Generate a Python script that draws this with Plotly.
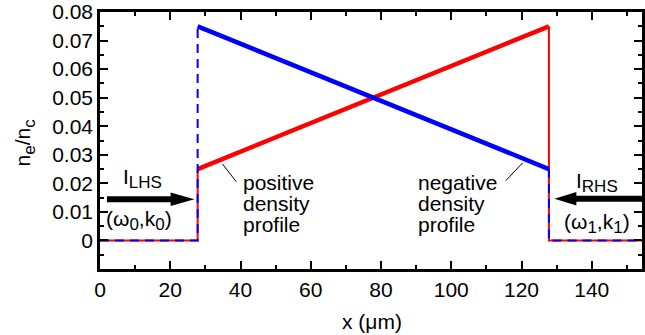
import plotly.graph_objects as go

# ---- data ----
x_edges = [0, 27.8, 127.8, 156]          # vacuum / plasma / vacuum boundaries (µm)
pos_profile_y = [0.025, 0.075]           # positive density profile (ne/nc) at plasma edges
neg_profile_y = [0.075, 0.025]           # negative density profile (ne/nc) at plasma edges
x_ticks = [0, 20, 40, 60, 80, 100, 120, 140]
y_ticks = [0, 0.01, 0.02, 0.03, 0.04, 0.05, 0.06, 0.07, 0.08]
y_tick_text = ["0", "0.01", "0.02", "0.03", "0.04", "0.05", "0.06", "0.07", "0.08"]

W, H = 645, 335
ML, MR, MT, MB = 100, 0, 10, 66
XR = [0, 154.3]
YR = [-0.01, 0.08001]
FONT = "Liberation Sans, Arial, sans-serif"
FS = 21

def dx(px):
    return XR[0] + (px - ML) / (W - ML - MR) * (XR[1] - XR[0])

def dy(py):
    return YR[1] - (py - MT) / (H - MT - MB) * (YR[1] - YR[0])

RED = "#ff0000"
BLUE = "#0000ff"

x0, xa, xb, x1 = x_edges
fig = go.Figure()

fig.add_trace(go.Scatter(
    x=[x0, xa, xa, None, xb, xb, x1],
    y=[0, 0, pos_profile_y[0], None, pos_profile_y[1], 0, 0],
    mode="lines", line=dict(color=RED, width=2), hoverinfo="skip", showlegend=False))
fig.add_trace(go.Scatter(
    x=[xa, xb], y=pos_profile_y,
    mode="lines", line=dict(color=RED, width=4.5), hoverinfo="skip", showlegend=False))
fig.add_trace(go.Scatter(
    x=[xa, xb], y=neg_profile_y,
    mode="lines", line=dict(color=BLUE, width=4.5), hoverinfo="skip", showlegend=False))
fig.add_trace(go.Scatter(
    x=[x0, xa, xa, None, xb, xb, x1],
    y=[0, 0, neg_profile_y[0], None, neg_profile_y[1], 0, 0],
    mode="lines", line=dict(color=BLUE, width=2, dash="9px,6px"),
    hoverinfo="skip", showlegend=False))
# empty helper trace so the top frame axis is drawn
fig.add_trace(go.Scatter(x=[None], y=[None], xaxis="x2", mode="lines",
                         hoverinfo="skip", showlegend=False))

axis_common = dict(
    showline=True, linecolor="black", linewidth=2.5, mirror="ticks",
    ticks="inside", ticklen=8, tickwidth=2, tickcolor="black",
    showgrid=False, zeroline=False,
    tickfont=dict(family=FONT, size=FS, color="black"),
)

fig.update_xaxes(range=XR, tickmode="array", tickvals=x_ticks,
                 ticktext=[str(v) for v in x_ticks],
                 minor=dict(ticks="inside", ticklen=4, tickwidth=2, tickcolor="black",
                            dtick=10, tick0=0),
                 **axis_common)
fig.update_yaxes(range=YR, tickmode="array", tickvals=y_ticks, ticktext=y_tick_text,
                 ticklabeloverflow="allow",
                 minor=dict(ticks="inside", ticklen=4, tickwidth=2, tickcolor="black",
                            dtick=0.005, tick0=0),
                 **axis_common)
fig.update_layout(xaxis2=dict(
    overlaying="x", side="top", range=XR, showline=True, linecolor="black", linewidth=2.5,
    ticks="inside", ticklen=8, tickwidth=2, tickcolor="black", tickmode="array",
    tickvals=x_ticks, showticklabels=False, showgrid=False, zeroline=False,
    minor=dict(ticks="inside", ticklen=4, tickwidth=2, tickcolor="black", dtick=10, tick0=0)))

SUB = '<sub><span style="font-size:17px">{}</span></sub>'

ann = []
def text(px, py, s, size=FS, xanchor="center"):
    ann.append(dict(x=dx(px), y=dy(py), xref="x", yref="y", text=s, showarrow=False,
                    xanchor=xanchor, yanchor="middle",
                    font=dict(family=FONT, size=size, color="black")))

text(143, 178, "I" + SUB.format("LHS"))
text(139, 220, "(ω" + SUB.format("0") + ",k" + SUB.format("0") + ")")
text(600, 182, "I" + SUB.format("RHS"))
text(600, 223, "(ω" + SUB.format("1") + ",k" + SUB.format("1") + ")")
for i, w in enumerate(["positive", "density", "profile"]):
    text(242, 182 + 21 * i, w, xanchor="left")
for i, w in enumerate(["negative", "density", "profile"]):
    text(418, 182 + 21 * i, w, xanchor="left")

ann.append(dict(x=(374 - ML) / (W - ML - MR), y=-(322 - (H - MB)) / (H - MT - MB),
                xref="paper", yref="paper", text="x (μm)", showarrow=False,
                xanchor="center", yanchor="middle",
                font=dict(family=FONT, size=FS, color="black")))
ann.append(dict(x=(25 - ML) / (W - ML - MR), y=((H - MB) - 141) / (H - MT - MB),
                xref="paper", yref="paper", text="n" + SUB.format("e") + "/n" + SUB.format("c"),
                showarrow=False, textangle=-90, xanchor="center", yanchor="middle",
                font=dict(family=FONT, size=FS, color="black")))
fig.update_layout(annotations=ann)

shapes = []
def path(pts):
    return "M " + " L ".join(f"{dx(a)},{dy(b)}" for a, b in pts) + " Z"

shapes.append(dict(type="path", xref="x", yref="y", fillcolor="black", line=dict(width=0),
                   path=path([(107, 195.7), (171, 195.7), (171, 192), (195, 198.7),
                              (171, 205.4), (171, 201.7), (107, 201.7)])))
shapes.append(dict(type="path", xref="x", yref="y", fillcolor="black", line=dict(width=0),
                   path=path([(660, 195.2), (579, 195.2), (579, 191.5), (557, 198.2),
                              (579, 204.9), (579, 201.2), (660, 201.2)])))
shapes.append(dict(type="line", xref="x", yref="y", x0=dx(223), y0=dy(163), x1=dx(237), y1=dy(181),
                   line=dict(color="black", width=1)))
shapes.append(dict(type="line", xref="x", yref="y", x0=dx(508), y0=dy(180), x1=dx(525), y1=dy(162),
                   line=dict(color="black", width=1)))
fig.update_layout(shapes=shapes)

fig.update_layout(width=W, height=H, margin=dict(l=ML, r=MR, t=MT, b=MB),
                  plot_bgcolor="white", paper_bgcolor="white", showlegend=False)

fig.write_html("out.html", config={"displayModeBar": False},
               post_script="document.body.style.margin='0';")
